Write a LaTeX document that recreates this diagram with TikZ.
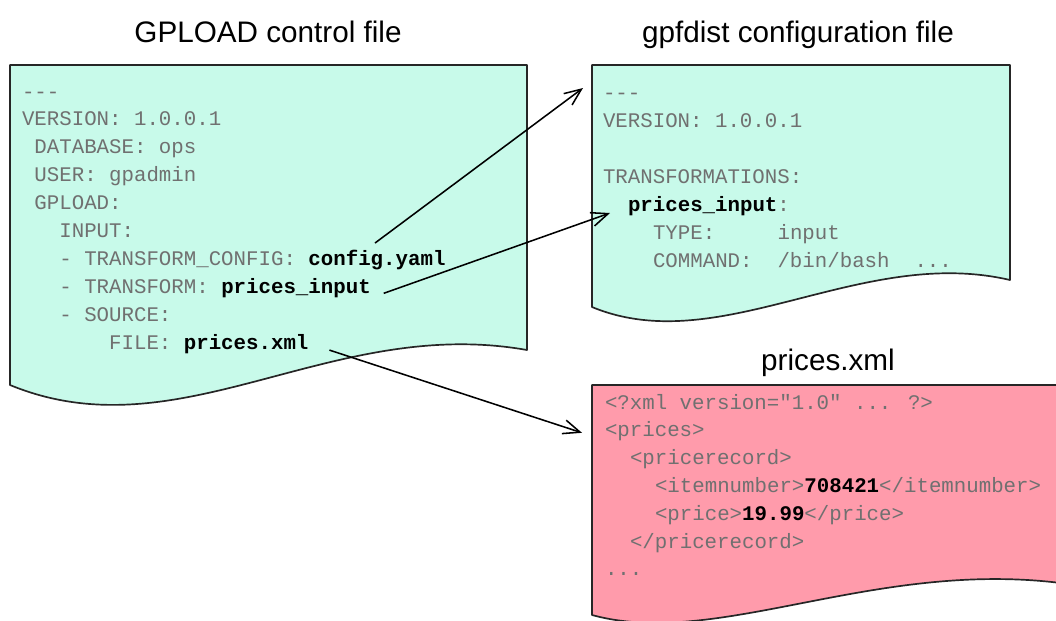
\documentclass[tikz,border=0pt]{standalone}
\usepackage{xcolor}
\usepackage{fontspec}
\setmainfont{Liberation Sans}
\newfontfamily\codefont{Liberation Mono}
\usepackage{tikz}
\usetikzlibrary{positioning, arrows.meta}
\definecolor{docgreen}{HTML}{C8FAEA}
\definecolor{docpink}{HTML}{FF9BAB}
\definecolor{keygray}{HTML}{707070}

\begin{document}
\begin{tikzpicture}[x=0.025cm, y=-0.025cm,
    doc/.style={draw=black!85, line width=1.2pt, line join=round},
    title/.style={anchor=base, font=\fontsize{21.1}{25}\selectfont},
    code/.style={anchor=base west, inner sep=0pt, outer sep=0pt, text=keygray, font=\codefont\fontsize{14.76}{18}\selectfont},
    val/.style={code, text=black, font=\codefont\bfseries\fontsize{14.76}{18}\selectfont},
    arr/.style={-{Straight Barb[length=12pt, width=10pt]}, line width=1.1pt}]
    \useasboundingbox (0,0) rectangle (1056,620);

    \filldraw[doc, fill=docgreen] (10,385) -- (10,65) -- (527,65) -- (527,350) .. controls (330,315) and (180,455) .. (10,385) -- cycle;
    \filldraw[doc, fill=docgreen] (592,307) -- (592,65) -- (1010,65) -- (1010,280) .. controls (860,245) and (720,360) .. (592,307) -- cycle;
    \filldraw[doc, fill=docpink] (592,615) -- (592,385) -- (1075,385) -- (1075,585) .. controls (880,555) and (720,650) .. (592,615) -- cycle;

    \node[title] (gptitle) at (268,42) {GPLOAD control file};
    \node[title] (cfgtitle) at (798,42) {gpfdist configuration file};
    \node[title] (xmltitle) at (828,370) {prices.xml};

    % control file
    \node[code] (g0) at (22,98) {-{}-{}-};
    \node[code] (g1) at (22,125.9) {VERSION: 1.0.0.1};
    \node[code] (g2) at (34.45,153.8) {DATABASE: ops};
    \node[code] (g3) at (34.45,181.7) {USER: gpadmin};
    \node[code] (g4) at (34.45,209.6) {GPLOAD:};
    \node[code] (g5) at (59.35,237.5) {INPUT:};
    \node[code] (g6) at (59.35,265.4) {- TRANSFORM\_CONFIG:};
    \node[val, base right=8.86pt of g6] (cfg) {config.yaml};
    \node[code] (g7) at (59.35,293.3) {- TRANSFORM:};
    \node[val, base right=8.86pt of g7] (pin) {prices\_input};
    \node[code] (g8) at (59.35,321.2) {- SOURCE:};
    \node[code] (g9) at (109.15,349.1) {FILE:};
    \node[val, base right=8.86pt of g9] (pxml) {prices.xml};

    % gpfdist config
    \node[code] (t0) at (603,99) {-{}-{}-};
    \node[code] (t1) at (603,127) {VERSION: 1.0.0.1};
    \node[code] (t3) at (603,183) {TRANSFORMATIONS:};
    \node[val] (tpin) at (628,211) {prices\_input};
    \node[code, base right=0pt of tpin] (t4) {:};
    \node[code] (t5) at (653,239) {TYPE:~~~~~input};
    \node[code] (t6) at (653,267) {COMMAND:~~/bin/bash~~...};

    % xml data
    \node[code] (x0) at (605,409) {<?xml version="1.0" ... ?>};
    \node[code] (xprices) at (605,436.8) {<prices>};
    \node[code] (x2) at (630,464.6) {<pricerecord>};
    \node[code] (x3) at (655,492.4) {<itemnumber>\textbf{\color{black}708421}</itemnumber>};
    \node[code] (x4) at (655,520.2) {<price>\textbf{\color{black}19.99}</price>};
    \node[code] (x5) at (630,548) {</pricerecord>};
    \node[code] (x6) at (605,575.8) {...};

    \draw[arr] ([shift={(-2,-7)}]cfg.north) -- ([shift={(-20,-11)}]t0.base west);
    \draw[arr] ([shift={(13,0)}]pin.base east) -- ([shift={(-18,2)}]tpin.base west);
    \draw[arr] ([shift={(21,1)}]pxml.base east) -- ([shift={(-23,-4)}]xprices.base west);
\end{tikzpicture}
\end{document}
